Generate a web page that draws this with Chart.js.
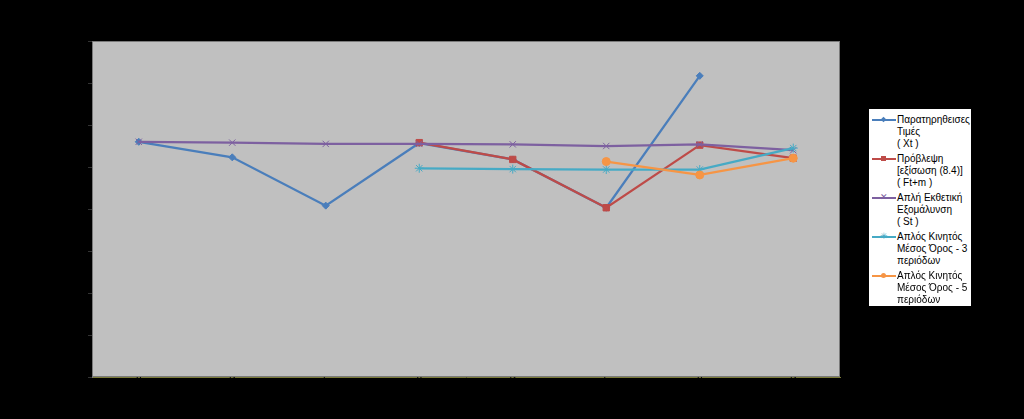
<!DOCTYPE html>
<html>
<head>
<meta charset="utf-8">
<script src="https://cdn.jsdelivr.net/npm/chart.js@4"></script>
<style>
  html, body { margin: 0; padding: 0; background: #000; }
  #wrap { position: relative; width: 1024px; height: 419px; }
  #legend {
    position: absolute; left: 868px; top: 108px; width: 104px; height: 199px;
    background: #fff; border: 1px solid #000; box-sizing: border-box;
    font-family: "Liberation Sans", Arial, sans-serif; font-size: 10px; line-height: 12px; color: #000;
    padding-top: 5px;
  }
  .item { position: relative; padding-left: 28px; height: 39px; }
  .swatch { position: absolute; left: 3px; top: 5px; width: 24px; height: 2px; }
  .dot { position: absolute; left: 9px; top: -2px; width: 5px; height: 5px; }
  .glyph { position: absolute; left: 8px; top: -6px; font-size: 9px; line-height: 12px; }
</style>
</head>
<body>
<div id="wrap">
  <canvas id="myChart" width="1024" height="419"></canvas>
  <div id="legend"></div>
</div>
<script>
const labels = ['Α', 'Β', 'Γ', 'Α', 'Β', 'Γ', 'Α', 'Β']

const observed = [56.0, 52.3, 40.8, 55.7, 51.8, 40.3, 71.7, null]
const forecast = [null, null, null, 55.8, 51.8, 40.3, 55.2, 52.1]
const smoothing = [56.0, 55.8, 55.5, 55.5, 55.4, 55.0, 55.4, 54.0]
const movingAvg3 = [null, null, null, 49.7, 49.5, 49.4, 49.4, 54.5]
const movingAvg5 = [null, null, null, null, null, 51.3, 48.1, 52.1]

const names = [
    ['Παρατηρηθεισες', 'Τιμές', '( Xt )'],
    ['Πρόβλεψη', '[εξίσωση (8.4)]', '( Ft+m )'],
    ['Απλή Εκθετική', 'Εξομάλυνση', '( St )'],
    ['Απλός Κινητός', 'Μέσος Όρος - 3', 'περιόδων'],
    ['Απλός Κινητός', 'Μέσος Όρος - 5', 'περιόδων']
]
const colors = ['#4a7ebb', '#be4b48', '#7d60a0', '#46aac5', '#f69545']
const markers = ['rectRot', 'rect', 'crossRot', 'star', 'circle']
const radii = [3.5, 4.5, 4.5, 4.5, 4]

const series = [observed, forecast, smoothing, movingAvg3, movingAvg5]

const plotBackground = {
    id: 'plotBackground',
    beforeDraw(chart) {
        const { ctx, chartArea } = chart
        ctx.save()
        ctx.fillStyle = '#c0c0c0'
        ctx.fillRect(chartArea.left, chartArea.top, chartArea.right - chartArea.left, chartArea.bottom - chartArea.top)
        ctx.strokeStyle = '#7a7a7a'
        ctx.lineWidth = 1
        ctx.strokeRect(chartArea.left + 0.5, chartArea.top + 0.5, chartArea.right - chartArea.left - 1, chartArea.bottom - chartArea.top - 1)
        ctx.restore()
    }
}

const ctx = document.getElementById('myChart')
new Chart(ctx, {
    type: 'line',
    data: {
        labels: labels,
        datasets: series.map((values, i) => ({
            label: names[i].join(' '),
            data: values,
            borderColor: colors[i],
            backgroundColor: colors[i],
            borderWidth: 2.25,
            pointStyle: markers[i],
            pointRadius: radii[i],
            pointBorderColor: colors[i],
            pointBackgroundColor: colors[i],
            pointBorderWidth: 1,
            tension: 0,
            spanGaps: false,
            order: 5 - i
        }))
    },
    plugins: [plotBackground],
    options: {
        responsive: false,
        animation: false,
        layout: { padding: { top: 41, right: 184, left: 0, bottom: 0 } },
        plugins: {
            legend: { display: false },
            tooltip: { enabled: false }
        },
        scales: {
            x: {
                offset: true,
                afterFit: s => { s.height = 42 },
                grid: { display: true, offset: true, drawOnChartArea: false, drawTicks: false },
                border: { color: '#7c7c3a', width: 1 },
                ticks: {
                    color: '#000',
                    padding: -5,
                    font: { family: 'Liberation Sans', size: 10 }
                }
            },
            y: {
                min: 0,
                max: 80,
                afterFit: s => { s.width = 92 },
                grid: { drawOnChartArea: false, tickLength: 4, color: '#333' },
                border: { color: '#7a7a7a' },
                ticks: {
                    stepSize: 10,
                    color: '#000',
                    font: { family: 'Liberation Sans', size: 10 }
                }
            }
        }
    }
})

// legend built from the same names / colors
const glyphs = { crossRot: '✕', star: '✳' }
const legend = document.getElementById('legend')
names.forEach((lines, i) => {
    const item = document.createElement('div')
    item.className = 'item'
    const sw = document.createElement('div')
    sw.className = 'swatch'
    sw.style.background = colors[i]
    if (glyphs[markers[i]]) {
        const g = document.createElement('span')
        g.className = 'glyph'
        g.style.color = colors[i]
        g.textContent = glyphs[markers[i]]
        sw.appendChild(g)
    } else {
        const dot = document.createElement('div')
        dot.className = 'dot'
        dot.style.background = colors[i]
        if (markers[i] === 'circle') dot.style.borderRadius = '50%'
        if (markers[i] === 'rectRot') dot.style.transform = 'rotate(45deg) scale(0.8)'
        sw.appendChild(dot)
    }
    item.appendChild(sw)
    lines.forEach(t => {
        const line = document.createElement('div')
        line.textContent = t
        item.appendChild(line)
    })
    legend.appendChild(item)
})
</script>
</body>
</html>
